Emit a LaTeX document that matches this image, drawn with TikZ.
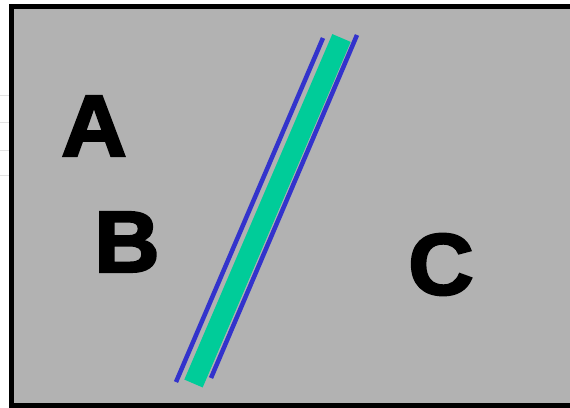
\documentclass[tikz,border=0pt]{standalone}
\usepackage{fontspec}
\setmainfont{Liberation Sans}[BoldFeatures={FakeBold=2.6}]
\definecolor{panelgray}{HTML}{B2B2B2}
\definecolor{bargreen}{HTML}{00CC99}
\definecolor{edgeblue}{HTML}{3333CC}
\definecolor{faint}{HTML}{E2E2E2}
\tikzset{
  letter/.style={font=\fontsize{87}{87}\selectfont\bfseries, text=black, inner sep=0pt, xscale=1.04},
  edgeline/.style={edgeblue, line width=4.5pt, line cap=butt},
  barline/.style={bargreen, line width=20pt, line cap=butt},
  faintline/.style={faint, line width=1pt}
}
\begin{document}
\begin{tikzpicture}[x=1pt,y=-1pt]
\useasboundingbox (0,0) rectangle (570,407);
\clip (0,0) rectangle (570,407);
\fill[white] (0,0) rectangle (570,407);
% faint lines at the left margin
\foreach \yy in {95,122,150,175} \draw[faintline] (0,\yy) -- (9,\yy);
% panel
\draw[fill=panelgray, draw=black, line width=5pt] (11.5,6.5) rectangle (590,405.5);
% bar and its edges
\coordinate (gt) at (341.5,38);
\coordinate (gb) at (193.5,383.5);
\coordinate (lt) at (323,38);
\coordinate (lb) at (176,382);
\coordinate (rt) at (357,35);
\coordinate (rb) at (211,378);
\draw[barline] (gt) -- (gb);
\draw[edgeline] (lt) -- (lb);
\draw[edgeline] (rt) -- (rb);
% letters
\node[letter] (A) at (94,126) {A};
\node[letter] (B) at (127,242) {B};
\node[letter] (C) at (441,264.5) {C};
\end{tikzpicture}
\end{document}
